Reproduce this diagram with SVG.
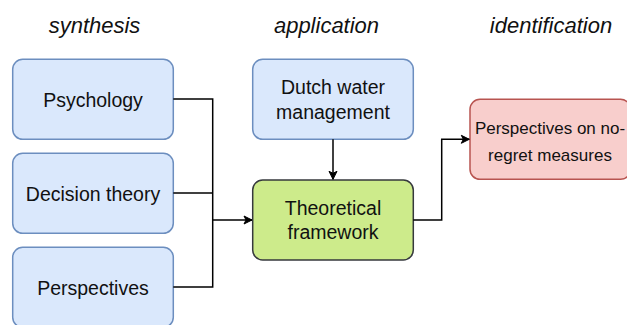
<svg xmlns="http://www.w3.org/2000/svg" width="627" height="325" viewBox="0 0 627 325">
<defs>
<marker id="arr" markerWidth="10" markerHeight="10" refX="9" refY="5" orient="auto" markerUnits="userSpaceOnUse">
<path d="M1,1 L9,5 L1,9 L3,5 Z" fill="#000" stroke="#000" stroke-width="1"/>
</marker>
<style>
.t{font-family:"Liberation Sans",Arial,sans-serif;font-size:19.5px;fill:#111;text-anchor:middle}
.h{font-family:"Liberation Sans",Arial,sans-serif;font-size:22px;font-style:italic;fill:#111;text-anchor:middle}
.blue{fill:#dae8fc;stroke:#6c8ebf;stroke-width:1.5}
.green{fill:#cdeb8b;stroke:#36393d;stroke-width:1.5}
.red{fill:#f8cecc;stroke:#b85450;stroke-width:1.5}
.c{fill:none;stroke:#000;stroke-width:1.5}
</style>
</defs>
<rect width="627" height="325" fill="#fff"/>
<g id="titles">
<text class="h" x="94.5" y="32.8">synthesis</text>
<text class="h" x="326.5" y="32.8">application</text>
<text class="h" x="551" y="32.8">identification</text>
</g>
<g id="psychology">
<rect class="blue" x="12.7" y="59.3" width="160.6" height="80" rx="10"/>
<text class="t" x="93" y="106.5">Psychology</text>
</g>
<g id="decision">
<rect class="blue" x="12.7" y="153.3" width="160.6" height="80" rx="10"/>
<text class="t" x="93" y="200.5">Decision theory</text>
</g>
<g id="perspectives">
<rect class="blue" x="12.7" y="247.3" width="160.6" height="80" rx="10"/>
<text class="t" x="93" y="294.5">Perspectives</text>
</g>
<g id="dutch">
<rect class="blue" x="252.7" y="59.3" width="160.6" height="80" rx="10"/>
<text class="t" x="333" y="94.3">Dutch water</text>
<text class="t" x="333" y="118.5">management</text>
</g>
<g id="framework">
<rect class="green" x="252.7" y="180" width="160.6" height="80" rx="10"/>
<text class="t" x="333" y="215">Theoretical</text>
<text class="t" x="333" y="239.3">framework</text>
</g>
<g id="noregret">
<rect class="red" x="470" y="99.3" width="160.6" height="80" rx="10"/>
<text class="t" x="550" y="134" style="font-size:17px">Perspectives on no-</text>
<text class="t" x="550" y="161" style="font-size:17px">regret measures</text>
</g>
<g id="connectors">
<path class="c" d="M173.3,99 H212.7 V287 H173.3"/>
<path class="c" d="M173.3,193 H212.7"/>
<path class="c" d="M212.7,220 H252" marker-end="url(#arr)"/>
<path class="c" d="M333,139.3 V179.3" marker-end="url(#arr)"/>
<path class="c" d="M413.3,220 H441.7 V139.3 H469.3" marker-end="url(#arr)"/>
</g>
</svg>
